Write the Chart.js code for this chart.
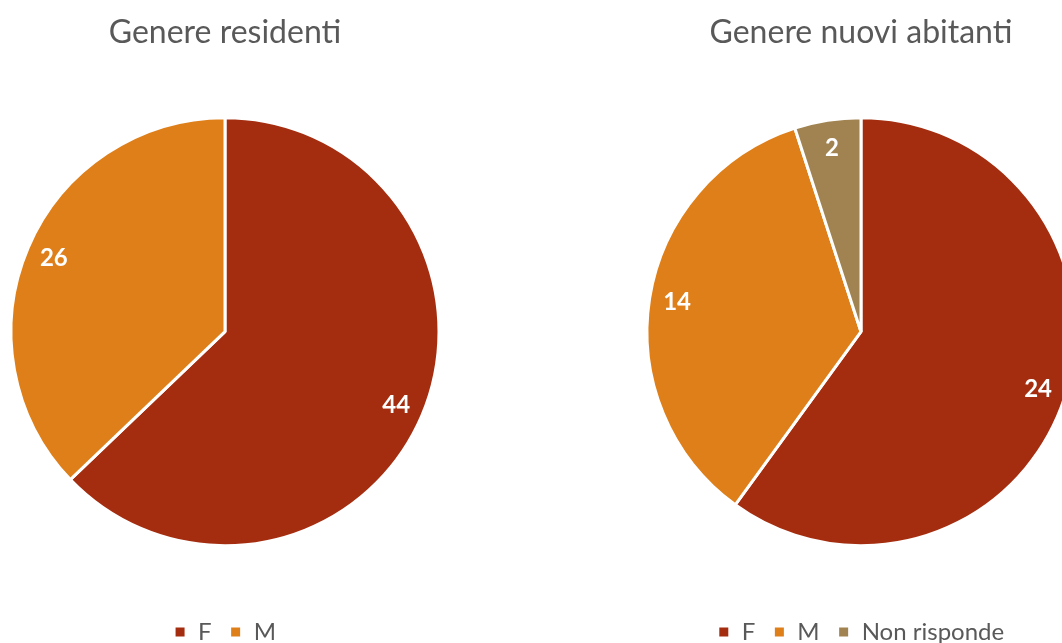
<!DOCTYPE html>
<html>
<head>
<meta charset="utf-8">
<script src="https://cdn.jsdelivr.net/npm/chart.js@4/dist/chart.umd.min.js"></script>
<style>
  html, body { margin: 0; padding: 0; background: #fff; overflow: hidden; width: 1062px; height: 643px; }
  .box { position: absolute; top: 0; width: 450px; height: 654px; }
  #left { left: 0; }
  #right { left: 636px; }
</style>
</head>
<body>
<div class="box" id="left"><canvas id="chartResidenti"></canvas></div>
<div class="box" id="right"><canvas id="chartNuovi"></canvas></div>
<script>
// data
var residentiLabels = ['F', 'M'];
var residentiValues = [44, 26];
var nuoviLabels = ['F', 'M', 'Non risponde'];
var nuoviValues = [24, 14, 2];
var sliceColors = ['#A52D0F', '#DE7F1A', '#A08350'];

var FONT = 'Lato, "Open Sans", sans-serif';

// white value labels near the outer edge of each slice
var valueLabels = {
    id: 'valueLabels',
    afterDatasetsDraw: function (chart) {
        var ctx = chart.ctx;
        var meta = chart.getDatasetMeta(0);
        ctx.save();
        ctx.fillStyle = '#fff';
        ctx.font = 'bold 24px ' + FONT;
        ctx.textAlign = 'center';
        ctx.textBaseline = 'middle';
        meta.data.forEach(function (arc, i) {
            var mid = (arc.startAngle + arc.endAngle) / 2;
            var r = arc.outerRadius * 0.87;
            ctx.fillText(chart.data.datasets[0].data[i], arc.x + Math.cos(mid) * r, arc.y + Math.sin(mid) * r);
        });
        ctx.restore();
    }
};

function makePie(id, title, labels, values) {
    return new Chart(document.getElementById(id), {
        type: 'pie',
        data: {
            labels: labels,
            datasets: [{
                data: values,
                backgroundColor: sliceColors.slice(0, values.length),
                borderColor: '#fff',
                borderWidth: 3
            }]
        },
        options: {
            responsive: true,
            maintainAspectRatio: false,
            animation: false,
            radius: 214,
            layout: { padding: { left: 11, right: 11 } },
            plugins: {
                title: {
                    display: true,
                    text: title,
                    color: '#595959',
                    font: { family: FONT, size: 32, weight: 'normal' },
                    padding: { top: 13, bottom: 10 }
                },
                legend: {
                    position: 'bottom',
                    labels: {
                        color: '#595959',
                        font: { family: FONT, size: 24 },
                        usePointStyle: true,
                        pointStyle: 'rect',
                        boxWidth: 12,
                        boxHeight: 12,
                        padding: 18
                    }
                },
                tooltip: { enabled: false }
            }
        },
        plugins: [valueLabels]
    });
}

makePie('chartResidenti', 'Genere residenti', residentiLabels, residentiValues);
makePie('chartNuovi', 'Genere nuovi abitanti', nuoviLabels, nuoviValues);
</script>
</body>
</html>
